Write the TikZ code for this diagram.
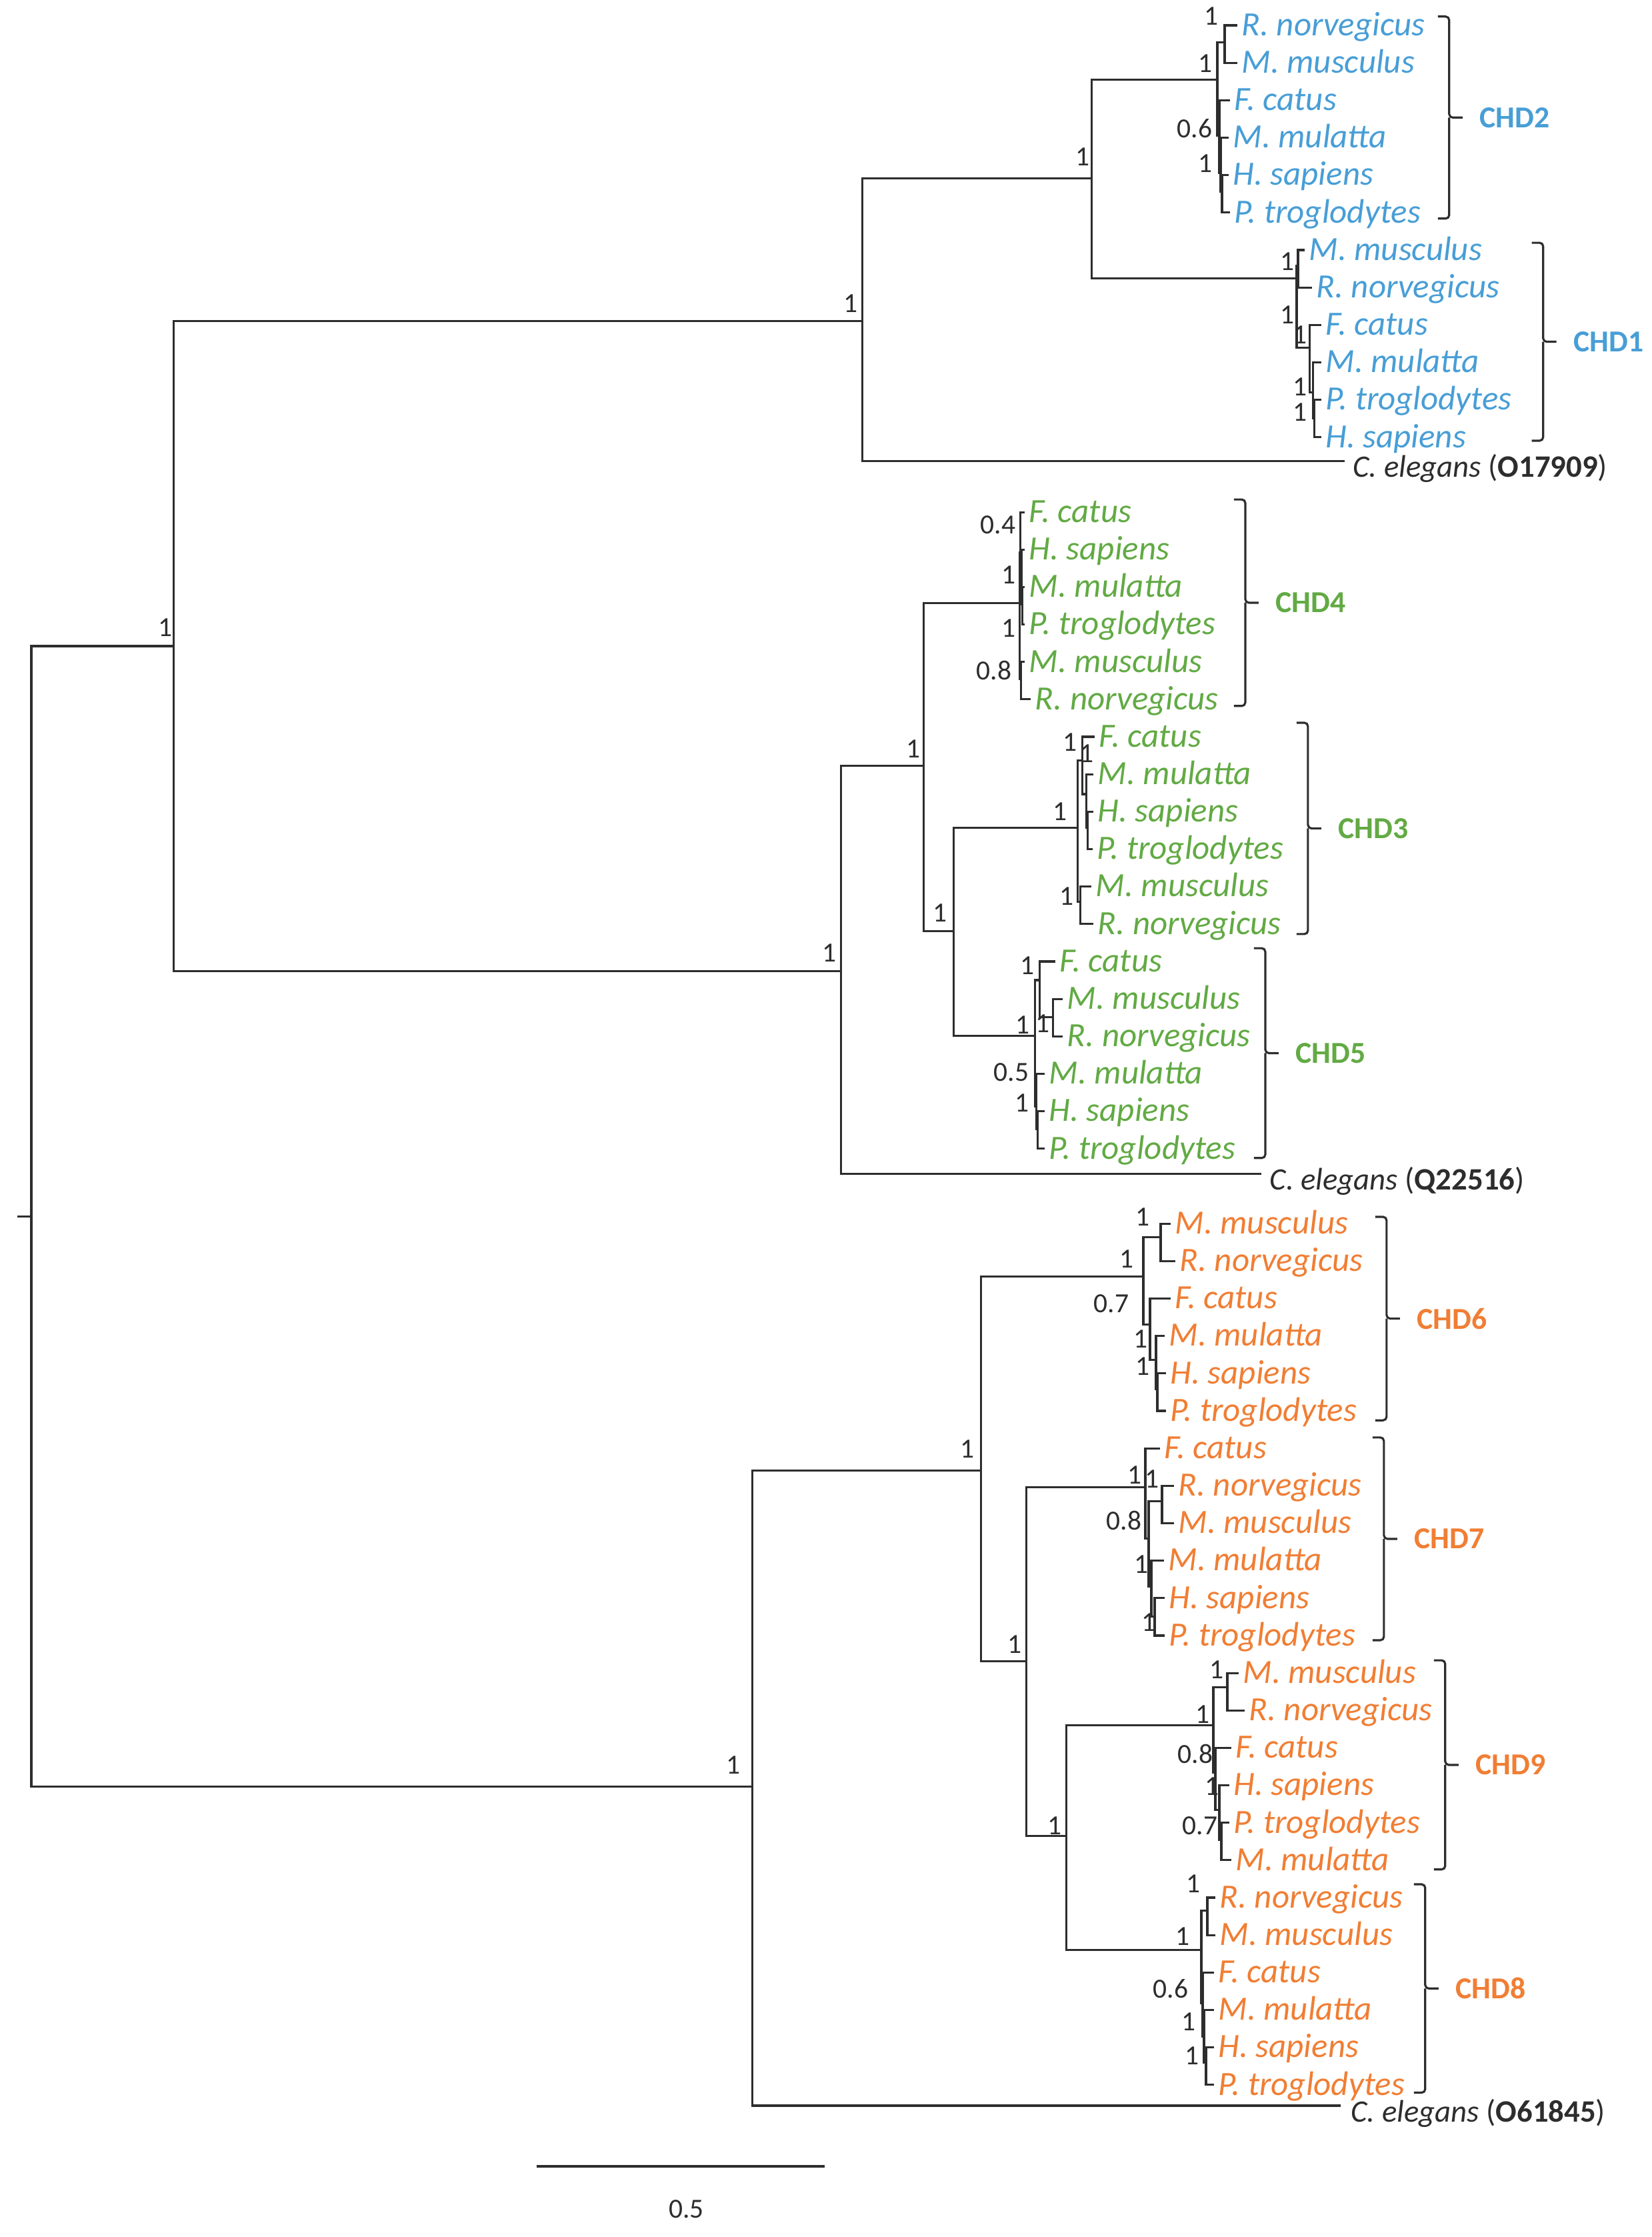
\documentclass[tikz,border=0pt]{standalone}
\usepackage{fontspec}
\setmainfont{Carlito}
\definecolor{treeline}{RGB}{45,45,45}
\definecolor{chdblue}{RGB}{72,158,214}
\definecolor{chdgreen}{RGB}{98,170,68}
\definecolor{chdorange}{RGB}{240,126,52}
\newcommand{\tipfont}{\fontsize{14.5}{16}\selectfont\itshape}
\newcommand{\suppfont}{\fontsize{11.8}{13}\selectfont}
\newcommand{\chdfont}{\fontsize{13}{15}\selectfont\bfseries}
\newcommand{\cegfont}{\fontsize{13.3}{15}\selectfont}
\tikzset{
    branch/.style={draw=treeline, line width=0.9pt},
    brk/.style={draw=treeline, line width=0.9pt, rounded corners=1.5pt},
    tiplab/.style={anchor=west, inner xsep=1.7pt, inner ysep=0pt,
        text height=10.1pt, text depth=1.4pt, font=\tipfont},
    bslab/.style={anchor=east, inner sep=0pt, text=treeline, font=\suppfont},
    chdlab/.style={anchor=west, inner sep=0pt, font=\chdfont},
    ceglab/.style={anchor=west, inner sep=0pt, text=treeline, font=\cegfont}
}
% tip: name, x, tip index, species
\newcommand{\tip}[4]{\node[tiplab] (#1) at (#2,{0.036+1.00645*#3}) {#4};}
% support value: name, right x, row, value
\newcommand{\supp}[4]{\node[bslab] (#1) at (#2,#3) {#4};}
% clade bracket: name, left x, top row, bottom row, label
\newcommand{\chdbrace}[5]{%
    \coordinate (#1m) at ({#2+17},{(#3+#4)/2});
    \draw[brk] (#2,#3) -| (#1m) -- ++(20,0);
    \draw[brk] (#2,#4) -| (#1m);
    \node[chdlab] (#1) at ({#2+62},{(#3+#4)/2}) {#5};}

\begin{document}
\begin{tikzpicture}[x=0.01cm, y=-0.558cm]
    % Init
    \useasboundingbox (0,-0.645) rectangle (2479,59.48);
    % 1. backbone
    \coordinate (rstub) at (26,32.05);
    \coordinate (root) at (47,32.05);
    \coordinate (nA) at (261,16.72);
    \coordinate (nB) at (1294,7.98);
    \coordinate (nE) at (1638,4.15);
    \coordinate (nD) at (1262,25.46);
    \coordinate (nF) at (1386,19.94);
    \coordinate (nG) at (1431,24.38);
    \coordinate (nH) at (1129,47.38);
    \coordinate (nI) at (1472,38.88);
    \coordinate (nJ) at (1540,44.0);
    \coordinate (nK) at (1600,48.7);
    % 2. clade roots
    \coordinate (c2) at (1827,1.5);
    \coordinate (c1) at (1946,6.83);
    \coordinate (c4) at (1530,15.57);
    \coordinate (c3) at (1617,21.61);
    \coordinate (c5) at (1553,27.19);
    \coordinate (c6) at (1716,33.67);
    \coordinate (c7) at (1719,39.32);
    \coordinate (c9) at (1821,45.72);
    \coordinate (c8) at (1803,51.77);
    % 3. outgroups
    \coordinate (ce1) at (2018,11.75);
    \node[ceglab] (ce1t) at (2030,11.95) {\textit{C. elegans} (\textbf{O17909})};
    \coordinate (ce2) at (1893,30.9);
    \node[ceglab] (ce2t) at (1905,31.1) {\textit{C. elegans} (\textbf{Q22516})};
    \coordinate (ce3) at (2012,55.95);
    \node[ceglab] (ce3t) at (2027,56.15) {\textit{C. elegans} (\textbf{O61845})};
    \draw[branch] (rstub) -- (root) (root) |- (nA) (root) |- (nH)
        (nA) |- (nB) (nA) |- (nD) (nB) |- (nE) (nB) |- (ce1)
        (nE) |- (c2) (nE) |- (c1) (nD) |- (nF) (nD) |- (ce2)
        (nF) |- (c4) (nF) |- (nG) (nG) |- (c3) (nG) |- (c5)
        (nH) |- (nI) (nH) |- (ce3) (nI) |- (c6) (nI) |- (nJ)
        (nJ) |- (c7) (nJ) |- (nK) (nK) |- (c9) (nK) |- (c8);
    \supp{bA}{259}{16.22}{1}
    \supp{bB}{1288}{7.52}{1}
    \supp{bE}{1636}{3.57}{1}
    \supp{bD}{1256}{24.96}{1}
    \supp{bF}{1382}{19.48}{1}
    \supp{bG}{1422}{23.89}{1}
    \supp{bH}{1112}{46.8}{1}
    \supp{bI}{1463}{38.3}{1}
    \supp{bJ}{1534}{43.55}{1}
    \supp{bK}{1594}{48.42}{1}

    % 4. CHD2
    \begin{scope}[text=chdblue]
        \coordinate (c2a) at (1838,0.5);
        \coordinate (c2b) at (1830,3.0);
        \coordinate (c2c) at (1832,4.0);
        \coordinate (c2d) at (1834,4.5);
        \tip{t2rn}{1857}{0}{R. norvegicus}
        \tip{t2mm}{1857}{1}{M. musculus}
        \tip{t2fc}{1846}{2}{F. catus}
        \tip{t2mu}{1844}{3}{M. mulatta}
        \tip{t2hs}{1844}{4}{H. sapiens}
        \tip{t2pt}{1846}{5}{P. troglodytes}
        \draw[branch] (c2) |- (c2a) (c2) |- (c2b)
            (c2a) |- (t2rn.west) (c2a) |- (t2mm.west)
            (c2b) |- (t2fc.west) (c2b) |- (c2c)
            (c2c) |- (t2mu.west) (c2c) |- (c2d)
            (c2d) |- (t2hs.west) (c2d) |- (t2pt.west);
        \supp{b2a}{1829}{-0.22}{1}
        \supp{b2b}{1820}{1.06}{1}
        \supp{b2c}{1820}{2.8}{0.6}
        \supp{b2d}{1820}{3.75}{1}
        \chdbrace{chd2}{2158}{-0.2}{5.23}{CHD2}
    \end{scope}

    % 5. CHD1
    \begin{scope}[text=chdblue]
        \coordinate (c1a) at (1948,6.5);
        \coordinate (c1c) at (1966,8.7);
        \coordinate (c1d) at (1971,9.9);
        \coordinate (c1e) at (1973,10.6);
        \tip{t1mm}{1958}{6}{M. musculus}
        \tip{t1rn}{1969}{7}{R. norvegicus}
        \tip{t1fc}{1983}{8}{F. catus}
        \tip{t1mu}{1983}{9}{M. mulatta}
        \tip{t1pt}{1983}{10}{P. troglodytes}
        \tip{t1hs}{1983}{11}{H. sapiens}
        \draw[branch] (c1) |- (c1a) (c1) |- (c1c)
            (c1a) |- (t1mm.west) (c1a) |- (t1rn.west)
            (c1c) |- (t1fc.west) (c1c) |- (c1d)
            (c1d) |- (t1mu.west) (c1d) |- (c1e)
            (c1e) |- (t1pt.west) (c1e) |- (t1hs.west);
        \supp{b1a}{1943}{6.38}{1}
        \supp{b1b}{1943}{7.81}{1}
        \supp{b1c}{1962}{8.35}{1}
        \supp{b1d}{1962}{9.75}{1}
        \supp{b1e}{1962}{10.43}{1}
        \chdbrace{chd1}{2299}{5.88}{11.2}{CHD1}
    \end{scope}

    % 6. CHD4
    \begin{scope}[text=chdgreen]
        \coordinate (c4a) at (1531,14.2);
        \coordinate (c4b) at (1533,15.0);
        \coordinate (c4c) at (1534,15.6);
        \coordinate (c4d) at (1532,17.6);
        \tip{t4fc}{1538}{13}{F. catus}
        \tip{t4hs}{1538}{14}{H. sapiens}
        \tip{t4mu}{1538}{15}{M. mulatta}
        \tip{t4pt}{1538}{16}{P. troglodytes}
        \tip{t4mm}{1538}{17}{M. musculus}
        \tip{t4rn}{1547}{18}{R. norvegicus}
        \draw[branch] (c4) |- (c4a) (c4) |- (c4d)
            (c4a) |- (t4fc.west) (c4a) |- (c4b)
            (c4b) |- (t4hs.west) (c4b) |- (c4c)
            (c4c) |- (t4mu.west) (c4c) |- (t4pt.west)
            (c4d) |- (t4mm.west) (c4d) |- (t4rn.west);
        \supp{b4a}{1525}{13.46}{0.4}
        \supp{b4b}{1525}{14.8}{1}
        \supp{b4c}{1525}{16.24}{1}
        \supp{b4d}{1519}{17.37}{0.8}
        \chdbrace{chd4}{1852}{12.78}{18.33}{CHD4}
    \end{scope}

    % 7. CHD3
    \begin{scope}[text=chdgreen]
        \coordinate (c3a) at (1624,19.8);
        \coordinate (c3b) at (1630,20.7);
        \coordinate (c3c) at (1632,21.6);
        \coordinate (c3e) at (1621,23.6);
        \tip{t3fc}{1643}{19}{F. catus}
        \tip{t3mu}{1641}{20}{M. mulatta}
        \tip{t3hs}{1641}{21}{H. sapiens}
        \tip{t3pt}{1640}{22}{P. troglodytes}
        \tip{t3mm}{1638}{23}{M. musculus}
        \tip{t3rn}{1641}{24}{R. norvegicus}
        \draw[branch] (c3) |- (c3a) (c3) |- (c3e)
            (c3a) |- (t3fc.west) (c3a) |- (c3b)
            (c3b) |- (t3mu.west) (c3b) |- (c3c)
            (c3c) |- (t3hs.west) (c3c) |- (t3pt.west)
            (c3e) |- (t3mm.west) (c3e) |- (t3rn.west);
        \supp{b3a}{1617}{19.3}{1}
        \supp{b3b}{1642}{19.6}{1}
        \supp{b3c}{1602}{21.16}{1}
        \supp{b3d}{1612}{23.44}{1}
        \chdbrace{chd3}{1946}{18.78}{24.46}{CHD3}
    \end{scope}

    % 8. CHD5
    \begin{scope}[text=chdgreen]
        \coordinate (c5a) at (1560,25.7);
        \coordinate (c5b) at (1580,26.7);
        \coordinate (c5d) at (1555,29.1);
        \coordinate (c5e) at (1557,29.7);
        \tip{t5fc}{1584}{25}{F. catus}
        \tip{t5mm}{1595}{26}{M. musculus}
        \tip{t5rn}{1595}{27}{R. norvegicus}
        \tip{t5mu}{1568}{28}{M. mulatta}
        \tip{t5hs}{1568}{29}{H. sapiens}
        \tip{t5pt}{1568}{30}{P. troglodytes}
        \draw[branch] (c5) |- (c5a) (c5) |- (c5d)
            (c5a) |- (t5fc.west) (c5a) |- (c5b)
            (c5b) |- (t5mm.west) (c5b) |- (t5rn.west)
            (c5d) |- (t5mu.west) (c5d) |- (c5e)
            (c5e) |- (t5hs.west) (c5e) |- (t5pt.west);
        \supp{b5a}{1553}{25.3}{1}
        \supp{b5b}{1546}{26.9}{1}
        \supp{b5c}{1576}{26.87}{1}
        \supp{b5d}{1545}{28.17}{0.5}
        \supp{b5e}{1545}{29.0}{1}
        \chdbrace{chd5}{1882}{24.84}{30.48}{CHD5}
    \end{scope}

    % 9. CHD6
    \begin{scope}[text=chdorange]
        \coordinate (c6a) at (1742,32.6);
        \coordinate (c6b) at (1726,34.95);
        \coordinate (c6c) at (1735,35.9);
        \coordinate (c6d) at (1737,36.7);
        \tip{t6mm}{1757}{32}{M. musculus}
        \tip{t6rn}{1764}{33}{R. norvegicus}
        \tip{t6fc}{1757}{34}{F. catus}
        \tip{t6mu}{1748}{35}{M. mulatta}
        \tip{t6hs}{1750}{36}{H. sapiens}
        \tip{t6pt}{1750}{37}{P. troglodytes}
        \draw[branch] (c6) |- (c6a) (c6) |- (c6b)
            (c6a) |- (t6mm.west) (c6a) |- (t6rn.west)
            (c6b) |- (t6fc.west) (c6b) |- (c6c)
            (c6c) |- (t6mu.west) (c6c) |- (c6d)
            (c6d) |- (t6hs.west) (c6d) |- (t6pt.west);
        \supp{b6a}{1726}{32.06}{1}
        \supp{b6b}{1702}{33.2}{1}
        \supp{b6c}{1695}{34.4}{0.7}
        \supp{b6d}{1723}{35.34}{1}
        \supp{b6e}{1726}{36.08}{1}
        \chdbrace{chd6}{2064}{32.06}{37.53}{CHD6}
    \end{scope}

    % 10. CHD7
    \begin{scope}[text=chdorange]
        \coordinate (c7a) at (1724,40.7);
        \coordinate (c7b) at (1744,39.7);
        \coordinate (c7c) at (1728,42.0);
        \coordinate (c7d) at (1733,42.8);
        \tip{t7fc}{1741}{38}{F. catus}
        \tip{t7rn}{1762}{39}{R. norvegicus}
        \tip{t7mm}{1762}{40}{M. musculus}
        \tip{t7mu}{1747}{41}{M. mulatta}
        \tip{t7hs}{1748}{42}{H. sapiens}
        \tip{t7pt}{1748}{43}{P. troglodytes}
        \draw[branch] (c7) |- (t7fc.west) (c7) |- (c7a)
            (c7a) |- (c7b) (c7a) |- (c7c)
            (c7b) |- (t7rn.west) (c7b) |- (t7mm.west)
            (c7c) |- (t7mu.west) (c7c) |- (c7d)
            (c7d) |- (t7hs.west) (c7d) |- (t7pt.west);
        \supp{b7a}{1714}{39.0}{1}
        \supp{b7b}{1740}{39.1}{1}
        \supp{b7c}{1714}{40.23}{0.8}
        \supp{b7d}{1724}{41.4}{1}
        \supp{b7e}{1735}{42.96}{1}
        \chdbrace{chd7}{2060}{37.99}{43.44}{CHD7}
    \end{scope}

    % 11. CHD9
    \begin{scope}[text=chdorange]
        \coordinate (c9a) at (1842,44.7);
        \coordinate (c9b) at (1824,47.0);
        \coordinate (c9c) at (1830,48.0);
        \coordinate (c9d) at (1833,48.8);
        \tip{t9mm}{1859}{44}{M. musculus}
        \tip{t9rn}{1868}{45}{R. norvegicus}
        \tip{t9fc}{1848}{46}{F. catus}
        \tip{t9hs}{1845}{47}{H. sapiens}
        \tip{t9pt}{1845}{48}{P. troglodytes}
        \tip{t9mu}{1848}{49}{M. mulatta}
        \draw[branch] (c9) |- (c9a) (c9) |- (c9b)
            (c9a) |- (t9mm.west) (c9a) |- (t9rn.west)
            (c9b) |- (t9fc.west) (c9b) |- (c9c)
            (c9c) |- (t9hs.west) (c9c) |- (c9d)
            (c9d) |- (t9pt.west) (c9d) |- (t9mu.west);
        \supp{b9a}{1837}{44.23}{1}
        \supp{b9b}{1816}{45.43}{1}
        \supp{b9c}{1821}{46.5}{0.8}
        \supp{b9d}{1830}{47.37}{1}
        \supp{b9e}{1828}{48.42}{0.7}
        \chdbrace{chd9}{2152}{43.98}{49.6}{CHD9}
    \end{scope}

    % 12. CHD8
    \begin{scope}[text=chdorange]
        \coordinate (c8a) at (1812,50.7);
        \coordinate (c8b) at (1805,53.2);
        \coordinate (c8c) at (1807,54.1);
        \coordinate (c8d) at (1810,54.8);
        \tip{t8rn}{1824}{50}{R. norvegicus}
        \tip{t8mm}{1824}{51}{M. musculus}
        \tip{t8fc}{1822}{52}{F. catus}
        \tip{t8mu}{1822}{53}{M. mulatta}
        \tip{t8hs}{1822}{54}{H. sapiens}
        \tip{t8pt}{1822}{55}{P. troglodytes}
        \draw[branch] (c8) |- (c8a) (c8) |- (c8b)
            (c8a) |- (t8rn.west) (c8a) |- (t8mm.west)
            (c8b) |- (t8fc.west) (c8b) |- (c8c)
            (c8c) |- (t8mu.west) (c8c) |- (c8d)
            (c8d) |- (t8hs.west) (c8d) |- (t8pt.west);
        \supp{b8a}{1802}{49.98}{1}
        \supp{b8b}{1786}{51.4}{1}
        \supp{b8c}{1784}{52.8}{0.6}
        \supp{b8d}{1795}{53.7}{1}
        \supp{b8e}{1800}{54.6}{1}
        \chdbrace{chd8}{2122}{50.0}{55.6}{CHD8}
    \end{scope}

    % 13. scale bar
    \coordinate (sbl) at (805,57.58);
    \coordinate (sbr) at (1238,57.58);
    \draw[branch] (sbl) -- (sbr);
    \node[bslab, anchor=center] (sblab) at (1030,58.73) {0.5};
\end{tikzpicture}
\end{document}
